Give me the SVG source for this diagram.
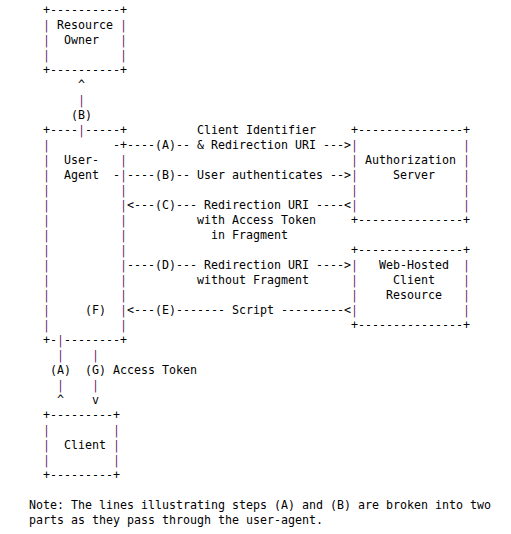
<svg xmlns="http://www.w3.org/2000/svg" width="511" height="534" viewBox="0 0 511 534" xml:space="preserve">
<style>
text{font-family:"DejaVu Sans Mono","Liberation Mono",monospace;font-size:11.63px;fill:#000;white-space:pre}
.p{fill:#6b1f6b}
</style>
<rect width="511" height="534" fill="#fff"/>
<g id="resource-owner">
<text x="43" y="13.5">+----------+</text>
<text x="43" y="28.5"><tspan class="p">|</tspan> Resource <tspan class="p">|</tspan></text>
<text x="43" y="43.5"><tspan class="p">|</tspan>  Owner   <tspan class="p">|</tspan></text>
<text x="43" y="58.5"><tspan class="p">|</tspan>          <tspan class="p">|</tspan></text>
<text x="43" y="73.5">+----------+</text>
</g>
<g id="user-agent">
<text x="43" y="133.5">+----<tspan class="p">|</tspan>-----+</text>
<text x="43" y="148.5"><tspan class="p">|</tspan>         -+</text>
<text x="43" y="163.5"><tspan class="p">|</tspan>  User-   <tspan class="p">|</tspan></text>
<text x="43" y="178.5"><tspan class="p">|</tspan>  Agent  -<tspan class="p">|</tspan></text>
<text x="43" y="193.5"><tspan class="p">|</tspan>          <tspan class="p">|</tspan></text>
<text x="43" y="208.5"><tspan class="p">|</tspan>          <tspan class="p">|</tspan></text>
<text x="43" y="223.5"><tspan class="p">|</tspan>          <tspan class="p">|</tspan></text>
<text x="43" y="238.5"><tspan class="p">|</tspan>          <tspan class="p">|</tspan></text>
<text x="43" y="253.5"><tspan class="p">|</tspan>          <tspan class="p">|</tspan></text>
<text x="43" y="268.5"><tspan class="p">|</tspan>          <tspan class="p">|</tspan></text>
<text x="43" y="283.5"><tspan class="p">|</tspan>          <tspan class="p">|</tspan></text>
<text x="43" y="298.5"><tspan class="p">|</tspan>          <tspan class="p">|</tspan></text>
<text x="43" y="313.5"><tspan class="p">|</tspan>     (F)  <tspan class="p">|</tspan></text>
<text x="43" y="328.5"><tspan class="p">|</tspan>          <tspan class="p">|</tspan></text>
<text x="43" y="343.5">+-<tspan class="p">|</tspan>--------+</text>
</g>
<g id="authorization-server">
<text x="351" y="133.5">+---------------+</text>
<text x="351" y="148.5"><tspan class="p">|</tspan>               <tspan class="p">|</tspan></text>
<text x="351" y="163.5"><tspan class="p">|</tspan> Authorization <tspan class="p">|</tspan></text>
<text x="351" y="178.5"><tspan class="p">|</tspan>     Server    <tspan class="p">|</tspan></text>
<text x="351" y="193.5"><tspan class="p">|</tspan>               <tspan class="p">|</tspan></text>
<text x="351" y="208.5"><tspan class="p">|</tspan>               <tspan class="p">|</tspan></text>
<text x="351" y="223.5">+---------------+</text>
</g>
<g id="web-hosted-client-resource">
<text x="351" y="253.5">+---------------+</text>
<text x="351" y="268.5"><tspan class="p">|</tspan>   Web-Hosted  <tspan class="p">|</tspan></text>
<text x="351" y="283.5"><tspan class="p">|</tspan>     Client    <tspan class="p">|</tspan></text>
<text x="351" y="298.5"><tspan class="p">|</tspan>    Resource   <tspan class="p">|</tspan></text>
<text x="351" y="313.5"><tspan class="p">|</tspan>               <tspan class="p">|</tspan></text>
<text x="351" y="328.5">+---------------+</text>
</g>
<g id="client">
<text x="43" y="418.5">+---------+</text>
<text x="43" y="433.5"><tspan class="p">|</tspan>         <tspan class="p">|</tspan></text>
<text x="43" y="448.5"><tspan class="p">|</tspan>  Client <tspan class="p">|</tspan></text>
<text x="43" y="463.5"><tspan class="p">|</tspan>         <tspan class="p">|</tspan></text>
<text x="43" y="478.5">+---------+</text>
</g>
<g id="connectors">
<text x="78" y="88.5">^</text>
<text x="78" y="103.5" class="p">|</text>
<text x="71" y="118.5">(B)</text>
<text x="197" y="133.5">Client Identifier</text>
<text x="127" y="148.5">----(A)-- &amp; Redirection URI ---&gt;</text>
<text x="127" y="178.5">----(B)-- User authenticates --&gt;</text>
<text x="127" y="208.5">&lt;---(C)--- Redirection URI ----&lt;</text>
<text x="197" y="223.5">with Access Token</text>
<text x="211" y="238.5">in Fragment</text>
<text x="127" y="268.5">----(D)--- Redirection URI ----&gt;</text>
<text x="197" y="283.5">without Fragment</text>
<text x="127" y="313.5">&lt;---(E)------- Script ---------&lt;</text>
<text x="57" y="358.5" class="p">|</text>
<text x="92" y="358.5" class="p">|</text>
<text x="50" y="373.5">(A)</text>
<text x="85" y="373.5">(G) Access Token</text>
<text x="57" y="388.5" class="p">|</text>
<text x="92" y="388.5" class="p">|</text>
<text x="57" y="403.5">^</text>
<text x="92" y="403.5">v</text>
</g>
<g id="note">
<text x="29" y="508.5">Note: The lines illustrating steps (A) and (B) are broken into two</text>
<text x="29" y="523.5">parts as they pass through the user-agent.</text>
</g>
</svg>
